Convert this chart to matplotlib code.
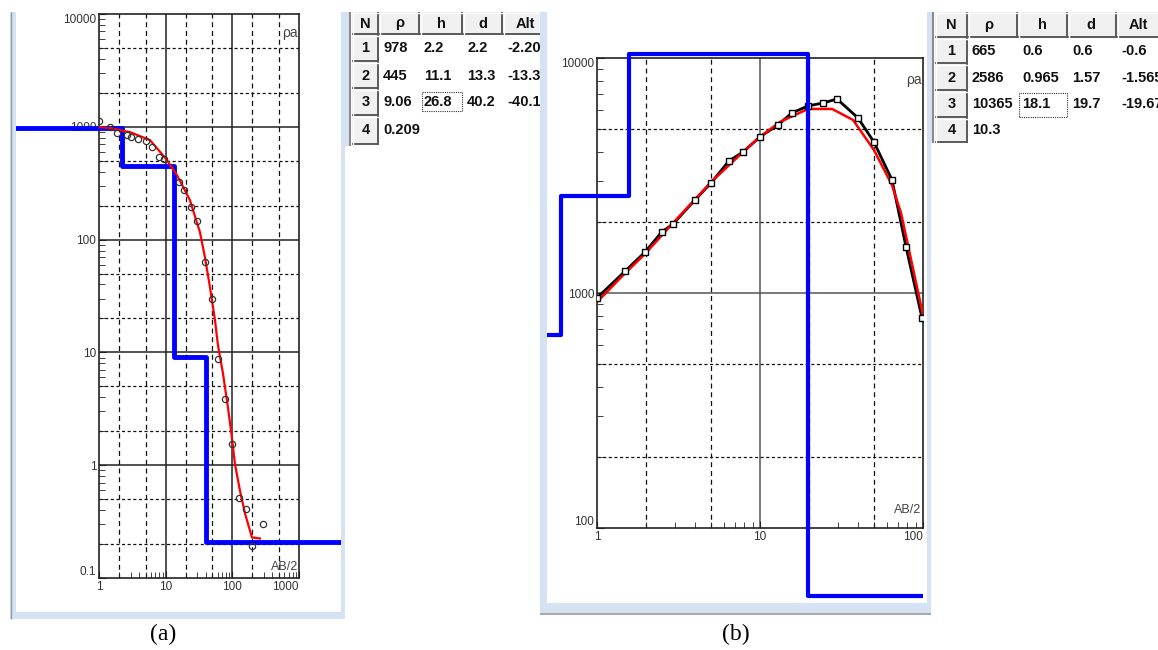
import matplotlib
matplotlib.use("Agg")
import matplotlib.pyplot as plt
from matplotlib.patches import Rectangle
from matplotlib.ticker import LogLocator, NullFormatter

W, H = 1158, 650
SANS = ["Liberation Sans", "DejaVu Sans"]
SERIF = ["Liberation Serif", "DejaVu Serif"]
plt.rcParams["font.family"] = SANS

# (a) measured apparent resistivity, fitted curve and layer model
ab2_a = [1, 1.46, 1.86, 2.63, 3.02, 3.84, 5.07, 6.24, 7.94, 9.44, 15.8, 18.8,
         23.9, 29.5, 38.8, 49.4, 60.8, 77.4, 98.6, 126, 160, 197, 288]
rho_a = [1124, 994, 879, 844, 811, 778, 747, 661, 538, 517, 323, 274,
         194, 146, 63, 29.6, 8.7, 3.84, 1.53, 0.507, 0.405, 0.194, 0.299]
fit_ab2_a = [1, 1.46, 2.92, 5.82, 10.5, 14.8, 23.1, 32.7, 38.8, 46.2, 54.9,
             60.8, 72.3, 85.9, 98.6, 109, 130, 155, 197, 259]
fit_rho_a = [994, 973, 897, 762, 506, 372, 224, 116, 69.8, 37.8, 19.3,
             11.6, 6.53, 3.26, 1.76, 1.04, 0.597, 0.373, 0.229, 0.224]
model_rho_a = [978, 445, 9.06, 0.209]
model_depth_a = [2.2, 13.3, 40.2]

# (b)
ab2_b = [1, 1.49, 1.97, 2.5, 2.93, 3.99, 5.01, 6.45, 7.87, 10, 12.9, 15.7,
         19.7, 24.4, 29.7, 39.9, 50, 64.5, 78.7, 98.6]
rho_b = [953, 1240, 1493, 1820, 1966, 2490, 2940, 3650, 3980, 4620, 5190, 5840,
         6250, 6440, 6690, 5560, 4390, 3030, 1570, 783]
fit_ab2_b = [1, 1.49, 1.97, 2.93, 5.01, 7.87, 10, 13.3, 19.7, 27.7, 37.2,
             50, 64.5, 73.3, 100]
fit_rho_b = [915, 1216, 1466, 1987, 2965, 3980, 4620, 5350, 6070, 6070, 5450,
             4060, 2880, 2190, 806]
model_rho_b = [665, 2586, 10365, 10.3]
model_depth_b = [0.6, 1.57, 19.7]

xlabels_a = ["1", "10", "100", "1000"]
ylabels_a = ["0.1", "1", "10", "100", "1000", "10000"]
xlabels_b = ["1", "10", "100"]
ylabels_b = ["100", "1000", "10000"]

table_header = ["N", "ρ", "h", "d", "Alt"]
table_a = [["1", "978", "2.2", "2.2", "-2.205"],
           ["2", "445", "11.1", "13.3", "-13.33"],
           ["3", "9.06", "26.8", "40.2", "-40.18"],
           ["4", "0.209", "", "", ""]]
table_b = [["1", "665", "0.6", "0.6", "-0.6"],
           ["2", "2586", "0.965", "1.57", "-1.565"],
           ["3", "10365", "18.1", "19.7", "-19.67"],
           ["4", "10.3", "", "", ""]]

fig = plt.figure(figsize=(W / 100, H / 100), dpi=100)
bg = fig.add_axes([0, 0, 1, 1])
bg.set_xlim(0, W)
bg.set_ylim(0, H)
bg.axis("off")


def box(x0, y0, x1, y1, clip=None, **kw):
    r = Rectangle((x0, H - y1), x1 - x0, y1 - y0, **kw)
    bg.add_patch(r)
    if clip is not None:
        r.set_clip_path(clip)
    return r


def seg(xs, ys, clip=None, **kw):
    ln, = bg.plot(xs, [H - y for y in ys], solid_capstyle="butt", **kw)
    if clip is not None:
        ln.set_clip_path(clip)
    return ln


FRAME = "#d4e2f4"
box(10, 12, 345, 619, fc=FRAME, ec="none")
clip_a = box(16, 12, 341, 612, fc="white", ec="none")
seg([10.5, 10.5], [12, 619], color="#9a9a9a", lw=1)
# panel (b) frame sits above the table (a) texts so their overflow is hidden
box(540, 12, 931, 613, fc=FRAME, ec="none", zorder=4)
clip_b = box(547, 12, 927, 603, fc="white", ec="none", zorder=4)
seg([540, 931], [613.5, 613.5], color="#9a9a9a", lw=1.2, zorder=4)


def draw_table(x_edges, y_edges, head_x, rows, focus, clip_box):
    clip = Rectangle((clip_box[0], H - clip_box[3]), clip_box[2] - clip_box[0],
                     clip_box[3] - clip_box[1], transform=bg.transData)
    box(clip_box[0] - 6, clip_box[1], clip_box[0] - 1, clip_box[3], fc=FRAME, ec="none")
    seg([clip_box[0] - 0.5, clip_box[0] - 0.5], [clip_box[1], clip_box[3]], color="#8a8a8a", lw=1.5)
    for i, row in enumerate([table_header] + rows):
        y0, y1 = y_edges[i], y_edges[i + 1]
        for j, txt in enumerate(row):
            x0, x1 = x_edges[j], x_edges[j + 1]
            button = i == 0 or j == 0
            if button:
                box(x0, y0, x1, y1, clip=clip, fc="#f0f0f0", ec="none")
                seg([x0, x1], [y1 - 0.7, y1 - 0.7], clip=clip, color="#5a5a5a", lw=1.4)
                seg([x1 - 0.7, x1 - 0.7], [y0, y1], clip=clip, color="#5a5a5a", lw=1.4)
                seg([x0, x1], [y0 + 0.5, y0 + 0.5], clip=clip, color="white", lw=1)
                seg([x0 + 0.5, x0 + 0.5], [y0, y1], clip=clip, color="white", lw=1)
                t = bg.text(head_x[j] if i == 0 else (x0 + x1) / 2, H - (y0 + y1) / 2,
                            txt, ha="center", va="center", fontsize=10.5,
                            fontweight="bold", color="#111111")
            else:
                t = bg.text(x0 + 4, H - (y0 + y1) / 2, txt, ha="left", va="center",
                            fontsize=10.5, fontweight="bold", color="#111111")
            t.set_clip_path(clip)
    fx0, fy0, fx1, fy1 = focus
    box(fx0, fy0, fx1, fy1, fc="none", ec="#333333", lw=0.8, ls=(0, (1, 1)))


draw_table([352, 379, 420, 463, 503, 548], [12, 35, 62, 89, 116, 145],
           [365, 400, 441, 483, 525], table_a, (422, 92, 462, 111), (350, 12, 540, 146))
draw_table([935, 968, 1018, 1068, 1117, 1162], [12, 38, 64, 91, 118, 143],
           [951, 989, 1042, 1091, 1138], table_b, (1019, 93, 1067, 117), (933, 12, 1158, 143))


def log_axes(x0, y0, x1, y1):
    ax = fig.add_axes([x0 / W, (H - y1) / H, (x1 - x0) / W, (y1 - y0) / H])
    ax.set_xscale("log")
    ax.set_yscale("log")
    return ax


def style(ax, xlabels, ylabels, grid_color, pa_xy, ab_xy):
    xt = [float(s) for s in xlabels]
    yt = [float(s) for s in ylabels]
    ax.set_xlim(xt[0], xt[-1])
    ax.set_ylim(yt[0], yt[-1])
    for v in xt[1:-1]:
        ax.axvline(v, color=grid_color, lw=1.1, zorder=1)
    for v in yt[1:-1]:
        ax.axhline(v, color=grid_color, lw=1.1, zorder=1)
    for v in xt[:-1]:
        for m in (2, 5):
            ax.axvline(v * m, color="#111111", lw=0.9, ls=(0, (4, 3)), zorder=1)
    for v in yt[:-1]:
        for m in (2, 5):
            ax.axhline(v * m, color="#111111", lw=0.9, ls=(0, (2.5, 2)), zorder=1)
    ax.set_xticks(xt, labels=xlabels)
    ax.set_yticks(yt, labels=ylabels)
    ax.xaxis.set_minor_locator(LogLocator(subs=range(2, 10), numticks=20))
    ax.yaxis.set_minor_locator(LogLocator(subs=range(2, 10), numticks=20))
    ax.xaxis.set_minor_formatter(NullFormatter())
    ax.yaxis.set_minor_formatter(NullFormatter())
    ax.tick_params(which="both", direction="in", colors="#222222",
                   labelcolor="#333333", labelsize=8.5, pad=2)
    ax.tick_params(which="major", length=5)
    ax.tick_params(which="minor", length=4)
    for s in ax.spines.values():
        s.set_color("#222222")
        s.set_linewidth(1.2)
    ylab = ax.get_yticklabels()
    ylab[0].set_va("bottom")
    ylab[-1].set_va("top")
    ax.get_xticklabels()[-1].set_ha("right")
    ax.text(pa_xy[0], pa_xy[1], "ρa", transform=ax.transAxes, ha="right",
            va="center", fontsize=10, color="#444444")
    ax.text(ab_xy[0], ab_xy[1], "AB/2", transform=ax.transAxes, ha="right",
            va="bottom", fontsize=9, color="#444444")


def model_step(ax, depths, rhos, clip, floor_px, **kw):
    # layers below the frame are drawn along its bottom, as the program does
    disp = bg.transData.transform((0, H - floor_px))
    floor = ax.transData.inverted().transform(disp)[1]
    ys = [max(r, floor) for r in rhos]
    ln, = ax.plot([0.01] + depths + [1e5], ys + ys[-1:],
                  drawstyle="steps-post", color="#0000ff", **kw)
    ln.set_clip_path(clip)
    return ln


ax_a = log_axes(99, 14, 299, 578)
ax_a.plot(fit_ab2_a, fit_rho_a, color="red", lw=1.6, zorder=4)
ax_a.plot(ab2_a, rho_a, ls="none", marker="o", ms=4.5, mfc="none",
          mec="#333333", mew=0.9, zorder=5)
style(ax_a, xlabels_a, ylabels_a, "#222222", (0.995, 0.966), (0.995, 0.008))
model_step(ax_a, model_depth_a, model_rho_a, clip_a, 611, lw=3.5, zorder=3)

ax_b = log_axes(597, 58, 923, 528)
ax_b.plot(ab2_b, rho_b, color="black", lw=2, zorder=3)
ax_b.plot(fit_ab2_b, fit_rho_b, color="red", lw=1.8, zorder=4)
ax_b.plot(ab2_b, rho_b, ls="none", marker="s", ms=5, mfc="white",
          mec="black", mew=1, zorder=5)
style(ax_b, xlabels_b, ylabels_b, "#555555", (0.995, 0.953), (0.995, 0.025))
clip_b_plot = Rectangle((547, H - 603), 376, 591, transform=bg.transData)
model_step(ax_b, model_depth_b, model_rho_b, clip_b_plot, 596, lw=3, zorder=6)

bg.text(163, H - 634, "(a)", ha="center", va="center", fontsize=17, family=SERIF)
bg.text(736, H - 634, "(b)", ha="center", va="center", fontsize=17, family=SERIF)

fig.savefig("out.png", dpi=100)
